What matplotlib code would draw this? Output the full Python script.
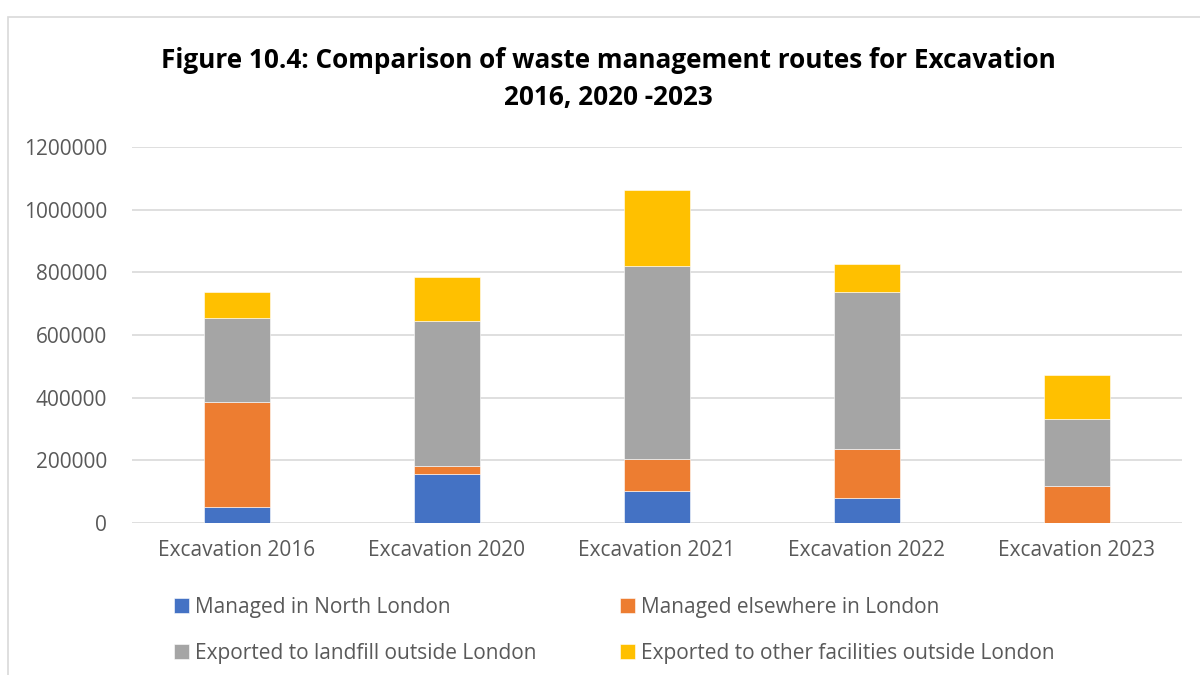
import matplotlib.pyplot as plt
from matplotlib.patches import Rectangle

categories = ["Excavation 2016", "Excavation 2020", "Excavation 2021",
              "Excavation 2022", "Excavation 2023"]
north_london = [50000, 155000, 102000, 80000, 0]
elsewhere_london = [336000, 26000, 103000, 157000, 118000]
landfill_outside = [267000, 465000, 615000, 500000, 214000]
other_outside = [83000, 138000, 244000, 91000, 140000]

series_names = ["Managed in North London", "Managed elsewhere in London",
                "Exported to landfill outside London",
                "Exported to other facilities outside London"]
colors = ["#4472C4", "#ED7D31", "#A5A5A5", "#FFC000"]

plt.rcParams['font.family'] = ['Open Sans', 'DejaVu Sans']

fig = plt.figure(figsize=(12, 6.75), dpi=100)
fig.patches.append(Rectangle((8 / 1200, -0.1), 1.1, 1.1 - 17 / 675,
                             transform=fig.transFigure, fill=False,
                             edgecolor="#d9d9d9", linewidth=1.2))

ax = fig.add_axes([132 / 1200, 1 - 523 / 675, 1050 / 1200, 376 / 675])

x = range(len(categories))
bottom = [0] * len(categories)
bars = []
for vals, name, c in zip([north_london, elsewhere_london, landfill_outside, other_outside],
                         series_names, colors):
    b = ax.bar(x, vals, bottom=bottom, width=0.314, color=c, label=name,
               edgecolor="white", linewidth=0.4, zorder=3)
    bars.append(b)
    bottom = [p + v for p, v in zip(bottom, vals)]

ax.set_ylim(0, 1200000)
ax.set_xlim(-0.5, 4.5)
ax.set_yticks(range(0, 1200001, 200000))
ax.set_yticklabels([str(v) for v in range(0, 1200001, 200000)])
ax.set_xticks(list(x))
ax.set_xticklabels(categories)
ax.tick_params(axis='both', length=0, labelsize=15, colors="#595959")
ax.tick_params(axis='y', pad=18)
ax.tick_params(axis='x', pad=12)
ax.grid(axis='y', color="#d9d9d9", linewidth=1.2, zorder=0)
for s in ax.spines.values():
    s.set_visible(False)

fig.text(0.507, 0.883, "Figure 10.4: Comparison of waste management routes for Excavation\n2016, 2020 -2023",
         ha='center', va='center', fontsize=18.8, fontweight='bold', color="#000000",
         linespacing=1.5)

handles = [bars[0], bars[2], bars[1], bars[3]]
labels = [series_names[0], series_names[2], series_names[1], series_names[3]]
leg = fig.legend(handles, labels, ncol=2, loc='center', bbox_to_anchor=(0.512, 0.066),
                 frameon=False, fontsize=15, handlelength=0.7, handleheight=0.7,
                 handletextpad=0.3, columnspacing=4.0, labelspacing=1.2, labelcolor="#595959")

fig.savefig("out.png", dpi=100)
